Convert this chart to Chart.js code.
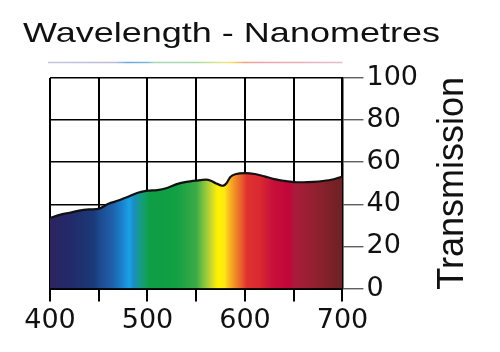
<!DOCTYPE html>
<html>
<head>
<meta charset="utf-8">
<script src="https://cdn.jsdelivr.net/npm/chart.js@4/dist/chart.umd.min.js"></script>
<style>
  html, body { margin: 0; padding: 0; background: #fff; }
  #wrap { width: 500px; height: 352px; }
</style>
</head>
<body>
<div id="wrap"><canvas id="chart"></canvas></div>
<script>
// --- DATA ---
const wavelengths = [400, 410, 420, 430, 440, 450, 460, 470, 480, 490, 500, 510, 520, 530, 540, 550, 560, 565, 570, 575, 578, 581, 585, 590, 600, 610, 620, 630, 640, 650, 660, 670, 680, 690, 700];
const transmission = [33.5, 35.0, 36.0, 37.0, 37.6, 37.9, 40.3, 41.8, 43.6, 45.5, 46.5, 46.8, 47.8, 49.6, 50.7, 51.3, 51.7, 51.2, 50.0, 49.0, 48.9, 50.0, 53.0, 54.3, 54.8, 54.4, 53.3, 52.0, 51.2, 50.6, 50.5, 50.7, 51.1, 51.8, 53.2];
const xTickValues = [400, 450, 500, 550, 600, 650, 700];
const xTickLabels = ['400', '', '500', '', '600', '', '700'];
const yTickLabels = ['0', '20', '40', '60', '80', '100'];
const chartTitle = 'Wavelength - Nanometres';
const yAxisTitle = 'Transmission';

// spectrum colours for the fill, by wavelength
const spectrumStops = [
    [400, '#2b2460'], [420, '#23296a'], [445, '#1a3a78'], [451, '#1c4a90'],
    [465, '#1e62ac'], [475, '#1b86d0'], [481, '#1aa0e8'], [486, '#1a8ec4'],
    [492, '#179a8a'], [498, '#12a060'], [502, '#0f9d45'], [530, '#12a044'],
    [550, '#3aab45'], [558, '#86c440'], [565, '#c8d62e'], [572, '#fff200'],
    [579, '#fde914'], [583, '#fbc020'], [590, '#f08a25'], [597, '#e85a2e'],
    [602, '#e03030'], [615, '#da2a30'], [628, '#c8103a'], [645, '#c0063a'],
    [652, '#a81c3a'], [670, '#952030'], [700, '#6b2222']
];
const lineStops = [
    [0, '#c4c6dc'], [0.23, '#b8bcd8'], [0.27, '#6aa8e0'], [0.34, '#7ab8d8'],
    [0.36, '#a8d8b4'], [0.5, '#a8d8a8'], [0.6, '#e8e880'], [0.63, '#f0d860'],
    [0.67, '#f0a080'], [0.72, '#f0a0a8'], [1, '#e0c0c8']
];

function spectrumFill(context) {
    const chart = context.chart;
    if (!chart.chartArea) return null;
    const xs = chart.scales.x;
    const x0 = xs.getPixelForValue(400), x1 = xs.getPixelForValue(700);
    const g = chart.ctx.createLinearGradient(x0, 0, x1, 0);
    spectrumStops.forEach(([nm, col]) => g.addColorStop((nm - 400) / 300, col));
    return g;
}

// title, spectrum strip and the bottom-to-top axis title
const decorPlugin = {
    id: 'decor',
    afterDraw(chart) {
        const c = chart.ctx;
        const area = chart.chartArea;
        c.save();
        // title, stretched like the original lettering
        c.font = '28px "Liberation Sans", Arial, sans-serif';
        c.fillStyle = '#111';
        c.textBaseline = 'alphabetic';
        c.textAlign = 'left';
        const w = c.measureText(chartTitle).width;
        c.translate(23, 42);
        c.scale(417 / w, 1);
        c.fillText(chartTitle, 0, 0);
        c.restore();

        // thin spectrum line under the title
        c.save();
        const g = c.createLinearGradient(48, 0, area.right, 0);
        lineStops.forEach(([p, col]) => g.addColorStop(p, col));
        c.strokeStyle = g;
        c.lineWidth = 1.5;
        c.beginPath();
        c.moveTo(48, 62.5);
        c.lineTo(area.right, 62.5);
        c.stroke();
        c.restore();

        // axis title, reading upwards
        c.save();
        c.font = '36px "Liberation Sans", Arial, sans-serif';
        c.fillStyle = '#111';
        c.textAlign = 'center';
        c.textBaseline = 'alphabetic';
        c.translate(463, (area.top + area.bottom) / 2);
        c.rotate(-Math.PI / 2);
        c.fillText(yAxisTitle, 0, 0);
        c.restore();
    }
};

new Chart(document.getElementById('chart'), {
    type: 'line',
    data: {
        labels: wavelengths,
        datasets: [{
            data: wavelengths.map((nm, i) => ({ x: nm, y: transmission[i] })),
            borderColor: '#111',
            borderWidth: 2.2,
            pointRadius: 0,
            tension: 0.3,
            fill: 'origin',
            backgroundColor: spectrumFill
        }]
    },
    options: {
        responsive: true,
        maintainAspectRatio: false,
        animation: false,
        events: [],
        layout: { padding: { left: 50, top: 78, right: 79, bottom: 12 } },
        plugins: {
            legend: { display: false },
            tooltip: { enabled: false },
            title: { display: false }
        },
        scales: {
            x: {
                type: 'linear',
                min: 400, max: 700,
                z: 1,
                afterBuildTicks: axis => { axis.ticks = xTickValues.map(v => ({ value: v })); },
                ticks: {
                    autoSkip: false,
                    maxRotation: 0,
                    padding: 3,
                    color: '#111',
                    font: { family: '"DejaVu Sans", sans-serif', size: 27 },
                    callback: (v, i) => xTickLabels[i]
                },
                grid: { color: '#000', lineWidth: 2, tickLength: 13, tickColor: '#000', tickWidth: 2 },
                border: { color: '#000', width: 2 }
            },
            y: {
                position: 'right',
                min: 0, max: 100,
                z: 1,
                ticks: {
                    stepSize: 20,
                    padding: 3,
                    color: '#111',
                    font: { family: '"DejaVu Sans", sans-serif', size: 27 },
                    callback: (v, i) => yTickLabels[i]
                },
                grid: { color: '#000', lineWidth: 1.5, tickLength: 21, tickColor: '#444', tickWidth: 1.2 },
                border: { color: '#000', width: 2.5 }
            }
        }
    },
    plugins: [decorPlugin]
});
</script>
</body>
</html>
